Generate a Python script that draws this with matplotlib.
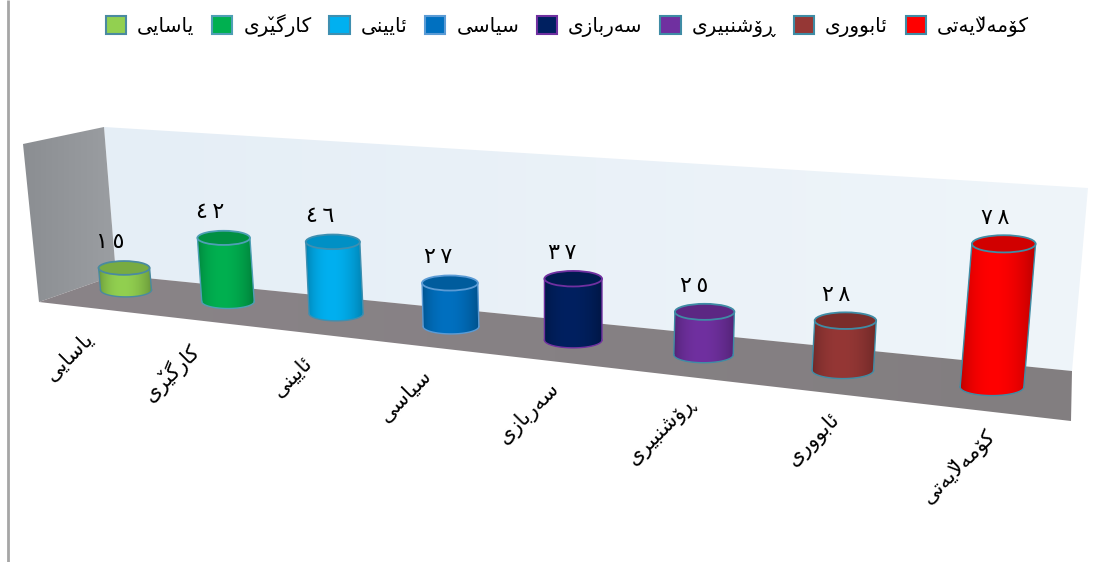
import numpy as np
import matplotlib
matplotlib.use("Agg")
import matplotlib.pyplot as plt
from matplotlib.patches import Polygon, Ellipse, Patch

plt.rcParams['font.family'] = ['DejaVu Sans']

# ---- data ----
categories = ["یاسایی", "کارگێری", "ئایینی", "سیاسی", "سەربازی", "ڕۆشنبیری", "ئابووری", "کۆمەڵایەتی"]
values = [15, 42, 46, 27, 37, 25, 28, 78]
colors = ["#92d050", "#00b050", "#00b0f0", "#0070c0", "#002060", "#7030a0", "#953735", "#ff0000"]
edge_colors = ["#4a8aa0", "#4f9fb5", "#3f8fb0", "#5b9bd5", "#7030a0", "#3f8ca5", "#3f8ca5", "#3f8ca5"]

# ---- Arabic-script shaping (matplotlib has no shaper) ----
V = "\u030c"  # zero-advance v mark
FORMS = {  # isolated, final, initial, medial
    "ا": ("\ufe8d", "\ufe8e"), "ر": ("\ufead", "\ufeae"), "ز": ("\ufeaf", "\ufeb0"),
    "و": ("\ufeed", "\ufeee"), "ۆ": ("\ufbd9", "\ufbda"), "ڕ": ("\u0695", "\ufeae" + V),
    "ە": ("\u06d5", "\ufeea"),
    "ی": ("\ufbfc", "\ufbfd", "\ufbfe", "\ufbff"), "ئ": ("\ufe89", "\ufe8a", "\ufe8b", "\ufe8c"),
    "ێ": ("\ufbfc" + V, "\ufbfd" + V, "\ufbfe" + V, "\ufbff" + V),
    "س": ("\ufeb1", "\ufeb2", "\ufeb3", "\ufeb4"), "ش": ("\ufeb5", "\ufeb6", "\ufeb7", "\ufeb8"),
    "ک": ("\ufb8e", "\ufb8f", "\ufb90", "\ufb91"), "گ": ("\ufb92", "\ufb93", "\ufb94", "\ufb95"),
    "ن": ("\ufee5", "\ufee6", "\ufee7", "\ufee8"), "ب": ("\ufe8f", "\ufe90", "\ufe91", "\ufe92"),
    "ت": ("\ufe95", "\ufe96", "\ufe97", "\ufe98"), "م": ("\ufee1", "\ufee2", "\ufee3", "\ufee4"),
}


def shape(word):
    out, prev_joins, i = [], False, 0
    while i < len(word):
        ch = word[i]
        if ch == "ڵ" and word[i + 1:i + 2] == "ا":
            out.append(("\ufefc" if prev_joins else "\ufefb") + V)
            prev_joins, i = False, i + 2
            continue
        f = FORMS[ch]
        nxt = word[i + 1] if i + 1 < len(word) else None
        dual = len(f) == 4
        next_joins = dual and nxt is not None
        if dual:
            g = f[3] if prev_joins and next_joins else f[1] if prev_joins else f[2] if next_joins else f[0]
        else:
            g = f[1] if prev_joins else f[0]
        out.append(g)
        prev_joins, i = next_joins, i + 1
    return "".join(reversed(out))


def arabic_digits(n):
    return "\u2009".join(chr(0x0660 + int(d)) for d in str(n))


# ---- projection of the pseudo-3D floor ----
def base_x(i):
    return (126 + 95.5 * i) / (1 - 0.02844 * i)


def base_y(x):
    return 290 + 0.112 * (x - 126)


def depth(i):
    return 1 / (1 - 0.02844 * i)


fig = plt.figure(figsize=(11.04, 5.62), dpi=100, facecolor="white")
ax = fig.add_axes([0, 0, 1, 1])


def clipped_image(g, pts, z):
    xs, ys = zip(*pts)
    im = ax.imshow(g, extent=(min(xs), max(xs), max(ys), min(ys)), aspect="auto", zorder=z, interpolation="bilinear")
    p = Polygon(pts, closed=True, transform=ax.transData, fc="none", ec="none")
    ax.add_patch(p)
    im.set_clip_path(p)


def grad_poly(pts, c0, c1, z=1):
    c0, c1 = np.array(matplotlib.colors.to_rgb(c0)), np.array(matplotlib.colors.to_rgb(c1))
    t = np.linspace(0, 1, 256)[:, None]
    clipped_image((c0 * (1 - t) + c1 * t)[None, :, :], pts, z)


# chart frame
ax.plot([8, 8], [0, 562], color="#a6a6a6", lw=2, zorder=1, solid_capstyle="butt")
grad_poly([(104, 127), (1088, 188), (1072, 371), (116, 275)], "#e5eef6", "#eff5fa")
grad_poly([(23, 144), (104, 127), (116, 275), (39, 302)], "#8b8e92", "#9b9ea2")
grad_poly([(39, 302), (116, 275), (1072, 371), (1071, 421)], "#8a8488", "#827e80")

# cylinders
for i, (cat, val, col, ec) in enumerate(zip(categories, values, colors, edge_colors)):
    xb = base_x(i)
    yb = base_y(xb)
    d = depth(i)
    h = val * 1.47 * d
    xt = xb + h * 0.000196 * (xb - 573)
    yt = yb - h
    a = 25.5 * d
    b = a * 0.27
    t = np.linspace(np.pi, 0, 61)
    bx, by = xb + a * np.cos(t), yb + b * np.sin(t)
    tx, ty = xt + a * np.cos(t), yt + b * np.sin(t)
    rgb = np.array(matplotlib.colors.to_rgb(col))
    u = np.linspace(0, 1, 128)
    shade = 0.70 + 0.30 * np.sin(np.pi * u ** 0.85) ** 0.7
    body = list(zip(tx, ty)) + list(zip(bx[::-1], by[::-1]))
    clipped_image((rgb[None, :] * shade[:, None])[None, :, :], body, 3 + i)
    ax.plot([tx[0], bx[0]], [ty[0], by[0]], color=ec, lw=1.0, zorder=3 + i)
    ax.plot([tx[-1], bx[-1]], [ty[-1], by[-1]], color=ec, lw=1.0, zorder=3 + i)
    ax.plot(bx, by, color=ec, lw=1.0, zorder=3 + i)
    ax.add_patch(Ellipse((xt, yt), 2 * a, 2 * b, fc=tuple(rgb * 0.82), ec=ec, lw=1.3, zorder=3 + i))
    # value label
    ax.text(xt - 14 + 0.75 * i, yt - 26, arabic_digits(val), ha="center", va="center",
            fontsize=16, color="black", zorder=20)
    # category label
    ax.text(xb - 36 + 0.042 * (xb - 126), yb + 46, shape(cat), rotation=45, rotation_mode="anchor",
            ha="right", va="center", fontsize=15, color="black", zorder=20)

# legend
handles = [Patch(facecolor=c, edgecolor=e, linewidth=1.5) for c, e in zip(colors, edge_colors)]
ax.legend(handles, [shape(c) for c in categories], ncol=8, loc="upper center",
          bbox_to_anchor=(0.514, 1.0), frameon=False, fontsize=14.5, handlelength=1.0, handleheight=1.0,
          handletextpad=0.55, columnspacing=0.88, borderaxespad=0.3)

ax.set_xlim(0, 1104)
ax.set_ylim(562, 0)
ax.axis("off")
fig.savefig("out.png", dpi=100)
